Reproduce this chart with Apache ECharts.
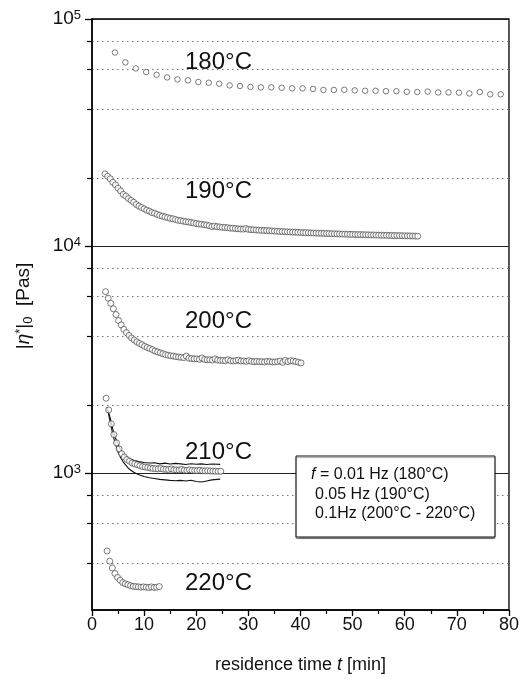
<!DOCTYPE html>
<html><head><meta charset="utf-8">
<script src="https://cdn.jsdelivr.net/npm/echarts@6/dist/echarts.min.js"></script>
<style>html,body{margin:0;padding:0;background:#fff}#c{width:522px;height:679px}</style>
</head><body><div id="c"></div>
<script>
// ---------- data ----------
const xTickLabels = [0, 10, 20, 30, 40, 50, 60, 70, 80];
const yDecadeTicks = [1000, 10000, 100000];
const yMinorTicks = [400, 600, 800, 2000, 4000, 6000, 8000, 20000, 40000, 60000, 80000];

// 180°C (f = 0.01 Hz)
const t180 = [4.4,6.4,8.4,10.4,12.4,14.4,16.4,18.4,20.4,22.4,24.4,26.4,28.4,30.4,32.4,34.4,36.4,38.4,40.4,42.4,44.4,46.4,48.4,50.4,52.4,54.4,56.4,58.4,60.4,62.4,64.4,66.4,68.4,70.4,72.4,74.4,76.4,78.4];
const v180 = [71200,64400,60600,58400,56800,55300,54200,53700,52800,52400,51900,51000,50700,50200,50000,50000,49800,49500,49500,49200,48700,48700,48800,48500,48300,48300,48100,48100,47800,47700,47900,47500,47500,47400,47000,47700,46600,46600];

// 190°C (f = 0.05 Hz), sampled every 0.5 min from 2.5 min
const t190Start = 2.5, t190Step = 0.5;
const v190 = [20800,20300,19800,19100,18600,18000,17500,16900,16600,16200,15900,15600,15250,15000,14800,14600,14400,14250,14050,13950,13800,13650,13550,13450,13350,13250,13200,13100,13000,12950,12880,12820,12760,12700,12650,12580,12520,12480,12420,12380,12300,12200,12250,12180,12150,12100,12080,12050,12000,11990,11950,11920,11900,11880,11950,11850,11820,11800,11780,11760,11740,11720,11700,11690,11670,11650,11630,11600,11590,11570,11560,11540,11530,11520,11500,11490,11470,11460,11450,11430,11420,11410,11400,11390,11380,11360,11350,11340,11330,11320,11310,11300,11290,11280,11270,11260,11250,11240,11240,11230,11220,11210,11200,11200,11190,11180,11170,11160,11160,11150,11140,11130,11130,11120,11110,11100,11100,11090,11080,11070,11060];

// 200°C (f = 0.1 Hz)
const t200Start = 2.6, t200Step = 0.5;
const v200 = [6300,5900,5600,5300,5000,4700,4500,4300,4160,4040,3940,3860,3790,3730,3680,3620,3580,3540,3500,3450,3420,3390,3360,3330,3310,3290,3280,3260,3250,3240,3230,3280,3210,3200,3190,3190,3180,3220,3170,3160,3160,3150,3190,3150,3140,3140,3130,3160,3130,3120,3130,3150,3120,3120,3110,3130,3110,3100,3110,3100,3100,3090,3110,3100,3090,3090,3100,3120,3080,3140,3100,3130,3120,3100,3080,3060];

// 210°C (f = 0.1 Hz) measured points and the two envelope curves
const t210Start = 2.7, t210Step = 0.5;
const v210 = [2140,1900,1650,1480,1360,1280,1220,1180,1150,1130,1110,1100,1090,1080,1070,1065,1060,1055,1050,1048,1045,1050,1042,1040,1038,1045,1036,1035,1034,1040,1032,1030,1036,1030,1028,1027,1030,1025,1024,1026,1023,1022,1021,1020,1020];
const t210Curve = [2.9,3.5,4,4.5,5,5.5,6,7,8,9,10,11,12,13,14,15,16,17,18,19,20,21,22,23,24.6];
const v210Upper = [1950,1750,1560,1430,1340,1270,1215,1165,1140,1125,1115,1110,1112,1100,1108,1098,1105,1100,1092,1102,1096,1100,1092,1098,1094];
const v210Lower = [1950,1680,1480,1340,1240,1170,1120,1050,1010,985,968,955,948,940,935,930,927,930,925,932,920,915,925,935,942];

// 220°C (f = 0.1 Hz)
const t220Start = 2.9, t220Step = 0.5;
const v220 = [455,410,383,362,348,338,330,326,323,320,318,317,316,315,316,315,314,316,314,315,317];

const seriesLabels = ['180°C', '190°C', '200°C', '210°C', '220°C'];
const legendLines = ['0.01 Hz (180°C)', '0.05 Hz (190°C)', '0.1Hz (200°C - 220°C)'];

// ---------- build ----------
const FONT = '"Liberation Sans", Arial, Helvetica, sans-serif';
function pairs(ts, vs) { return vs.map((v, i) => [ts[i], v]); }
function regular(start, step, vs) { return vs.map((v, i) => [+(start + i * step).toFixed(2), v]); }

const circleStyle = { color: '#fff', borderColor: '#333', borderWidth: 0.8 };
function scatter(data, size) {
  return { type: 'scatter', data, symbol: 'circle', symbolSize: size, itemStyle: circleStyle, z: 5, silent: true };
}
function curve(data) {
  return { type: 'line', data, showSymbol: false, symbol: 'none', lineStyle: { color: '#111', width: 1.1 }, z: 4, silent: true };
}

const chart = echarts.init(document.getElementById('c'), null, { renderer: 'canvas' });

const labelPos = [[185, 63], [185, 192], [185, 322], [185, 453], [185, 584]];

chart.setOption({
  animation: false,
  backgroundColor: '#fff',
  grid: { left: 92, right: 13, top: 19, bottom: 66, show: true, borderColor: '#000', borderWidth: 1.3, backgroundColor: 'transparent' },
  xAxis: {
    type: 'value', min: 0, max: 80, interval: 10,
    axisLine: { show: true, onZero: false, lineStyle: { color: '#000', width: 1.5 } },
    axisTick: { show: true, length: 6, lineStyle: { color: '#000', width: 1.3 } },
    minorTick: { show: true, splitNumber: 2, length: 4, lineStyle: { color: '#000', width: 1.2 } },
    axisLabel: { fontFamily: FONT, fontSize: 18, color: '#111', margin: 6 },
    splitLine: { show: false },
    name: 'residence time {i|t} [min]', nameLocation: 'middle', nameGap: 46,
    nameTextStyle: { fontFamily: FONT, fontSize: 18, color: '#111',
      rich: { i: { fontFamily: FONT, fontSize: 18, fontStyle: 'italic', color: '#111' } } }
  },
  yAxis: [
    {
      type: 'log', logBase: 10, min: 250, max: 100000, position: 'left',
      axisLine: { show: true, lineStyle: { color: '#000', width: 1.5 } },
      axisTick: { show: true, customValues: yDecadeTicks, length: 7, lineStyle: { color: '#000', width: 1.3 } },
      axisLabel: {
        customValues: yDecadeTicks, margin: 11, fontFamily: FONT, color: '#111',
        formatter: v => '10{e|' + Math.round(Math.log10(v)) + '}',
        rich: { e: { fontFamily: FONT, fontSize: 13, color: '#111', verticalAlign: 'top', padding: [0, 0, 8, 0] } },
        fontSize: 19
      },
      splitLine: { show: true, lineStyle: { color: '#222', width: 1 } }
    },
    {
      type: 'log', logBase: 10, min: 250, max: 100000, position: 'left', offset: 0,
      axisLine: { show: false },
      axisTick: { show: true, customValues: yMinorTicks, length: 5, lineStyle: { color: '#000', width: 1.2 } },
      axisLabel: { show: false },
      splitLine: { show: true, lineStyle: { color: '#777', width: 1, type: [1.5, 3.5] } }
    }
  ],
  series: [
    scatter(pairs(t180, v180), 5.5),
    scatter(regular(t190Start, t190Step, v190), 6),
    scatter(regular(t200Start, t200Step, v200), 6),
    curve(pairs(t210Curve, v210Upper)),
    curve(pairs(t210Curve, v210Lower)),
    scatter(regular(t210Start, t210Step, v210), 6),
    scatter(regular(t220Start, t220Step, v220), 6)
  ],
  graphic: [
    ...seriesLabels.map((s, i) => ({
      type: 'text', left: labelPos[i][0], top: labelPos[i][1] - 13, z: 10,
      style: { text: s, font: '24px ' + FONT, fill: '#111' }
    })),
    {
      type: 'rect', shape: { x: 296, y: 456, width: 199, height: 81 }, z: 20,
      style: { fill: '#fff', stroke: '#111', lineWidth: 1, shadowColor: 'rgba(0,0,0,0.35)', shadowOffsetX: 0, shadowOffsetY: 1.5, shadowBlur: 1 }
    },
    {
      type: 'text', x: 311, y: 475, z: 21,
      style: { text: '{i|f} = ' + legendLines[0], font: '16px ' + FONT, fill: '#111', textVerticalAlign: 'middle',
        rich: { i: { fontStyle: 'italic', fontSize: 16, fontFamily: FONT } } }
    },
    {
      type: 'text', x: 315, y: 494.5, z: 21,
      style: { text: legendLines[1], font: '16px ' + FONT, fill: '#111', textVerticalAlign: 'middle' }
    },
    {
      type: 'text', x: 315, y: 514, z: 21,
      style: { text: legendLines[2], font: '16px ' + FONT, fill: '#111', textVerticalAlign: 'middle' }
    },
    {
      type: 'text', x: 24, y: 306, rotation: Math.PI / 2, z: 10,
      style: {
        text: '|{i|η}{sup|*}|{sub|0}  [Pas]', font: '19px ' + FONT, fill: '#111', textAlign: 'center', textVerticalAlign: 'middle',
        rich: {
          i: { fontStyle: 'italic', fontSize: 19, fontFamily: FONT },
          sup: { fontSize: 13, fontFamily: FONT, verticalAlign: 'top', padding: [0, 0, 8, 0] },
          sub: { fontSize: 13, fontFamily: FONT, verticalAlign: 'bottom', padding: [8, 0, 0, 0] }
        }
      }
    }
  ]
});
</script>
</body></html>
